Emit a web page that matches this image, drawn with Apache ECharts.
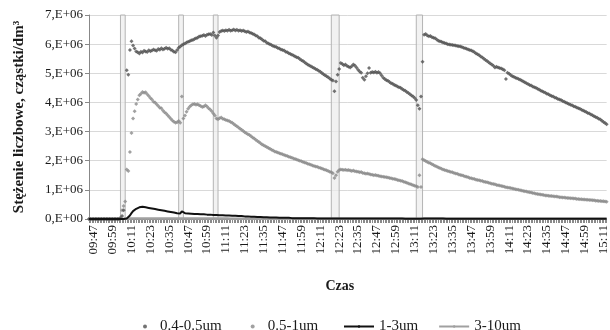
<!DOCTYPE html>
<html><head><meta charset="utf-8">
<script src="https://cdn.jsdelivr.net/npm/echarts@6/dist/echarts.min.js"></script>
<style>html,body{margin:0;padding:0;background:#fff}#c{width:610px;height:330px}</style>
</head><body><div id="c"></div><script>
// per-minute categories from 09:44 to 15:13
const FIRST_MINUTE = 9 * 60 + 44;
const N_MINUTES = 330;
const categories = [];
for (let i = 0; i < N_MINUTES; i++) {
  const t = FIRST_MINUTE + i;
  const h = Math.floor(t / 60), m = t % 60;
  categories.push((h < 10 ? '0' : '') + h + ':' + (m < 10 ? '0' : '') + m);
}
const tickLabels = ['09:47','09:59','10:11','10:23','10:35','10:47','10:59','11:11','11:23','11:35','11:47','11:59','12:11','12:23','12:35','12:47','12:59','13:11','13:23','13:35','13:47','13:59','14:11','14:23','14:35','14:47','14:59','15:11'];
const gaps = [['10:04','10:07'],['10:41','10:44'],['11:03','11:06'],['12:18','12:23'],['13:12','13:16']];
const seriesNames = ['0.4-0.5um','0.5-1um','1-3um','3-10um'];
const yTicks = [0,1,2,3,4,5,6,7]; // x 1E+06

// values in millions (E+06) per minute
const s04_05 = [
0,0,0,0,0,0,0,0,0,0,
0,0,0,0,0,0,0,0,0,0,
0.02,0.1,0.3,null,5.1,4.95,5.8,6.1,5.95,5.85,
5.75,5.72,5.68,5.74,5.71,5.77,5.75,5.73,5.79,5.76,
5.78,5.82,5.79,5.77,5.83,5.81,5.86,5.82,5.84,5.88,
5.84,5.86,5.81,5.78,5.74,5.72,5.8,5.88,5.92,5.96,
6.0,6.02,6.06,6.08,6.1,6.13,6.14,6.18,6.2,6.22,
6.26,6.27,6.29,6.31,6.28,6.32,6.34,6.35,6.31,6.4,
6.3,6.22,6.3,6.42,6.45,6.47,6.45,6.48,6.46,6.49,
6.46,6.48,6.5,6.47,6.49,6.46,6.48,6.45,6.47,6.44,
6.42,6.43,6.4,6.38,6.36,6.33,6.3,6.27,6.22,6.2,
6.16,6.12,6.1,6.05,6.02,6.0,5.97,5.94,5.92,5.9,
5.87,5.85,5.82,5.8,5.78,5.74,5.72,5.69,5.66,5.64,
5.61,5.58,5.55,5.53,5.49,5.45,5.42,5.38,5.34,5.3,
5.27,5.24,5.21,5.18,5.15,5.12,5.09,5.05,5.01,4.97,
4.93,4.9,4.86,4.82,4.78,4.75,4.38,4.72,4.95,5.15,
5.35,5.32,5.28,5.3,5.25,5.22,5.2,5.24,5.3,5.27,
5.2,5.12,5.06,5.02,4.85,4.78,4.9,5.0,5.18,5.02,
5.04,5.03,5.05,5.02,5.04,5.0,4.92,4.85,4.8,4.76,
4.74,4.7,4.66,4.64,4.6,4.58,4.55,4.52,4.5,4.46,
4.43,4.4,4.36,4.32,4.28,4.24,4.2,4.15,4.08,3.9,
3.78,4.2,5.4,6.32,6.35,6.3,6.27,6.28,6.24,6.22,
6.2,6.16,6.12,6.1,6.08,6.06,6.04,6.02,6.0,5.99,
5.98,5.97,5.96,5.95,5.94,5.93,5.92,5.9,5.88,5.86,
5.84,5.82,5.8,5.78,5.76,5.72,5.68,5.65,5.62,5.58,
5.54,5.5,5.46,5.42,5.38,5.34,5.3,5.26,5.2,5.22,
5.2,5.18,5.16,5.14,5.1,4.8,5.02,4.98,4.94,4.9,
4.88,4.85,4.83,4.8,4.78,4.75,4.72,4.69,4.66,4.63,
4.6,4.58,4.55,4.52,4.5,4.47,4.44,4.41,4.38,4.36,
4.33,4.3,4.28,4.25,4.22,4.2,4.17,4.15,4.12,4.1,
4.08,4.05,4.02,4.0,3.97,3.95,3.92,3.9,3.87,3.85,
3.83,3.8,3.78,3.75,3.72,3.7,3.67,3.64,3.62,3.59,
3.56,3.53,3.5,3.47,3.44,3.41,3.37,3.33,3.29,3.25
];
const s05_1 = [
0,0,0,0,0,0,0,0,0,0,
0,0,0,0,0,0,0,0,0,0,
0.05,0.3,0.45,0.6,1.7,1.65,2.3,2.95,3.45,3.7,
3.95,4.1,4.25,4.3,4.36,4.33,4.35,4.28,4.22,4.15,
4.1,4.02,4.0,3.94,3.88,3.82,3.8,3.72,3.66,3.62,
3.56,3.5,3.44,3.38,3.34,3.3,3.32,3.36,3.3,4.2,
3.45,3.55,3.68,3.78,3.85,3.9,3.94,3.95,3.92,3.94,
3.9,3.88,3.84,3.86,3.9,3.86,3.8,3.76,3.7,3.62,
3.55,3.45,3.42,3.46,3.48,3.44,3.42,3.4,3.38,3.36,
3.33,3.3,3.26,3.22,3.18,3.14,3.1,3.06,3.02,2.98,
2.94,2.91,2.88,2.84,2.8,2.76,2.72,2.68,2.64,2.6,
2.56,2.53,2.5,2.47,2.44,2.41,2.38,2.35,2.32,2.3,
2.28,2.26,2.24,2.22,2.2,2.18,2.16,2.14,2.12,2.1,
2.08,2.06,2.04,2.02,2.0,1.98,1.96,1.94,1.92,1.9,
1.88,1.86,1.84,1.82,1.8,1.79,1.77,1.75,1.73,1.71,
1.69,1.67,1.65,1.62,1.6,1.57,1.41,1.5,1.62,1.68,
1.7,1.69,1.68,1.69,1.67,1.68,1.66,1.65,1.66,1.64,
1.63,1.62,1.6,1.61,1.58,1.57,1.55,1.56,1.54,1.53,
1.52,1.5,1.51,1.49,1.48,1.47,1.46,1.45,1.44,1.43,
1.42,1.41,1.4,1.38,1.37,1.36,1.34,1.33,1.31,1.3,
1.28,1.26,1.24,1.22,1.2,1.18,1.16,1.14,1.12,1.1,
1.5,1.1,2.05,2.02,1.99,1.96,1.93,1.91,1.88,1.85,
1.82,1.8,1.77,1.75,1.72,1.7,1.68,1.66,1.65,1.63,
1.61,1.6,1.58,1.56,1.55,1.53,1.51,1.5,1.48,1.46,
1.45,1.43,1.41,1.4,1.38,1.37,1.35,1.34,1.33,1.31,
1.3,1.28,1.27,1.26,1.24,1.23,1.21,1.2,1.19,1.17,
1.16,1.15,1.13,1.12,1.11,1.09,1.08,1.07,1.06,1.05,
1.04,1.02,1.01,1.0,0.99,0.98,0.96,0.95,0.94,0.93,
0.92,0.91,0.89,0.88,0.87,0.86,0.85,0.84,0.83,0.82,
0.81,0.81,0.8,0.79,0.79,0.78,0.77,0.77,0.76,0.75,
0.75,0.74,0.74,0.73,0.72,0.72,0.71,0.71,0.7,0.7,
0.69,0.69,0.68,0.68,0.67,0.67,0.66,0.66,0.65,0.65,
0.64,0.64,0.63,0.63,0.62,0.62,0.61,0.61,0.6,0.59
];
const s1_3 = [
0,0,0,0,0,0,0,0,0,0,
0,0,0,0,0,0,0,0,0,0,
0,0,0,0,0.02,0.06,0.12,0.2,0.27,0.32,
0.35,0.38,0.4,0.41,0.42,0.41,0.4,0.39,0.38,0.37,
0.36,0.35,0.34,0.33,0.32,0.31,0.3,0.29,0.28,0.27,
0.26,0.25,0.24,0.23,0.22,0.21,0.2,0.2,0.19,0.26,
0.2,0.2,0.19,0.19,0.18,0.18,0.18,0.17,0.17,0.17,
0.17,0.16,0.16,0.16,0.16,0.15,0.15,0.15,0.15,0.14,
0.14,0.14,0.14,0.13,0.13,0.13,0.12,0.12,0.12,0.12,
0.11,0.11,0.11,0.11,0.1,0.1,0.1,0.1,0.09,0.09,
0.09,0.09,0.08,0.08,0.08,0.08,0.07,0.07,0.07,0.07,
0.06,0.06,0.06,0.06,0.06,0.05,0.05,0.05,0.05,0.05,
0.05,0.04,0.04,0.04,0.04,0.04,0.04,0.04,0.03,0.03,
0.03,0.03,0.03,0.03,0.03,0.03,0.03,0.03,0.03,0.03,
0.03,0.03,0.03,0.03,0.02,0.02,0.02,0.02,0.02,0.02,
0.02,0.02,0.02,0.02,0.02,0.02,0.02,0.02,0.02,0.02,
0.02,0.02,0.02,0.02,0.02,0.02,0.02,0.02,0.02,0.02,
0.02,0.02,0.02,0.02,0.02,0.02,0.02,0.02,0.02,0.02,
0.02,0.02,0.02,0.02,0.02,0.02,0.02,0.02,0.02,0.02,
0.02,0.02,0.02,0.02,0.02,0.02,0.02,0.02,0.02,0.02,
0.01,0.01,0.01,0.01,0.01,0.01,0.01,0.01,0.01,0.01,
0.01,0.01,0.02,0.02,0.02,0.02,0.02,0.02,0.02,0.02,
0.02,0.02,0.02,0.02,0.02,0.02,0.02,0.01,0.01,0.01,
0.01,0.01,0.01,0.01,0.01,0.01,0.01,0.01,0.01,0.01,
0.01,0.01,0.01,0.01,0.01,0.01,0.01,0.01,0.01,0.01,
0.01,0.01,0.01,0.01,0.01,0.01,0.01,0.01,0.01,0.01,
0.01,0.01,0.01,0.01,0.01,0.01,0.01,0.01,0.01,0.01,
0.01,0.01,0.01,0.01,0.01,0.01,0.01,0.01,0.01,0.01,
0.01,0.01,0.01,0.01,0.01,0.01,0.01,0.01,0.01,0.01,
0.01,0.01,0.01,0.01,0.01,0.01,0.01,0.01,0.01,0.01,
0.01,0.01,0.01,0.01,0.01,0.01,0.01,0.01,0.01,0.01,
0.01,0.01,0.01,0.01,0.01,0.01,0.01,0.01,0.01,0.01,
0.01,0.01,0.01,0.01,0.01,0.01,0.01,0.01,0.01,0.01
];
const s3_10 = [
0,0,0,0,0,0,0,0,0,0,
0,0,0,0,0,0,0,0,0,0,
0,0,0,0,0.01,0.01,0.02,0.02,0.02,0.02,
0.02,0.02,0.02,0.02,0.02,0.02,0.02,0.02,0.02,0.02,
0.02,0.02,0.02,0.02,0.02,0.02,0.02,0.02,0.02,0.02,
0.02,0.02,0.02,0.02,0.02,0.02,0.02,0.02,0.02,0.02,
0.02,0.02,0.02,0.02,0.02,0.02,0.02,0.02,0.02,0.02,
0.02,0.02,0.02,0.02,0.02,0.02,0.02,0.02,0.02,0.02,
0.02,0.02,0.02,0.02,0.02,0.02,0.02,0.02,0.02,0.02,
0.01,0.01,0.01,0.01,0.01,0.01,0.01,0.01,0.01,0.01,
0.01,0.01,0.01,0.01,0.01,0.01,0.01,0.01,0.01,0.01,
0.01,0.01,0.01,0.01,0.01,0.01,0.01,0.01,0.01,0.01,
0.01,0.01,0.01,0.01,0.01,0.01,0.01,0.01,0.01,0.01,
0.01,0.01,0.01,0.01,0.01,0.01,0.01,0.01,0.01,0.01,
0.01,0.01,0.01,0.01,0.01,0.01,0.01,0.01,0.01,0.01,
0.01,0.01,0.01,0.01,0.01,0.01,0.01,0.01,0.01,0.01,
0.01,0.01,0.01,0.01,0.01,0.01,0.01,0.01,0.01,0.01,
0.01,0.01,0.01,0.01,0.01,0.01,0.01,0.01,0.01,0.01,
0.01,0.01,0.01,0.01,0.01,0.01,0.01,0.01,0.01,0.01,
0.01,0.01,0.01,0.01,0.01,0.01,0.01,0.01,0.01,0.01,
0.01,0.01,0.01,0.01,0.01,0.01,0.01,0.01,0.01,0.01,
0.01,0.01,0.01,0.01,0.01,0.01,0.01,0.01,0.01,0.01,
0.01,0.01,0.01,0.01,0.01,0.01,0.01,0.01,0.01,0.01,
0.01,0.01,0.01,0.01,0.01,0.01,0.01,0.01,0.01,0.01,
0.01,0.01,0.01,0.01,0.01,0.01,0.01,0.01,0.01,0.01,
0.01,0.01,0.01,0.01,0.01,0.01,0.01,0.01,0.01,0.01,
0.01,0.01,0.01,0.01,0.01,0.01,0.01,0.01,0.01,0.01,
0.01,0.01,0.01,0.01,0.01,0.01,0.01,0.01,0.01,0.01,
0.01,0.01,0.01,0.01,0.01,0.01,0.01,0.01,0.01,0.01,
0.01,0.01,0.01,0.01,0.01,0.01,0.01,0.01,0.01,0.01,
0.01,0.01,0.01,0.01,0.01,0.01,0.01,0.01,0.01,0.01,
0.01,0.01,0.01,0.01,0.01,0.01,0.01,0.01,0.01,0.01,
0.01,0.01,0.01,0.01,0.01,0.01,0.01,0.01,0.01,0.01
];

const FONT = '"Liberation Serif", "Times New Roman", serif';
const chart = echarts.init(document.getElementById('c'), null, {renderer: 'canvas'});
chart.setOption({
  animation: false,
  backgroundColor: '#ffffff',
  textStyle: {fontFamily: FONT, color: '#1a1a1a'},
  grid: {left: 89, right: 3, top: 15, bottom: 111, containLabel: false},
  xAxis: {
    type: 'category', data: categories, boundaryGap: false,
    name: 'Czas', nameLocation: 'middle', nameGap: 60,
    nameTextStyle: {fontFamily: FONT, fontWeight: 'bold', fontSize: 14, color: '#1a1a1a', padding: [0, 16, 0, 0]},
    axisLine: {lineStyle: {color: '#7a7a7a', width: 1}},
    axisTick: {show: true, interval: 0, length: 4, lineStyle: {color: '#8a8a8a'}},
    axisLabel: {
      interval: (idx, val) => tickLabels.indexOf(val) >= 0,
      rotate: 90, margin: 6, fontFamily: FONT, fontSize: 13, color: '#1a1a1a'
    },
    splitLine: {show: false}
  },
  yAxis: {
    type: 'value', min: yTicks[0], max: yTicks[yTicks.length - 1], interval: 1,
    name: 'Stężenie liczbowe, cząstki/dm³', nameLocation: 'middle', nameGap: 62, nameRotate: 90,
    nameTextStyle: {fontFamily: FONT, fontWeight: 'bold', fontSize: 15, color: '#1a1a1a'},
    axisLine: {show: true, lineStyle: {color: '#888'}},
    axisTick: {show: true, length: 4, lineStyle: {color: '#888'}},
    axisLabel: {
      formatter: v => v === 0 ? '0,E+00' : v + ',E+06',
      fontFamily: FONT, fontSize: 13, color: '#1a1a1a', margin: 6
    },
    splitLine: {lineStyle: {color: '#d9d9d9'}}
  },
  legend: [
    {data: [seriesNames[0], seriesNames[1]], left: 138, top: 314, icon: 'circle',
     itemWidth: 4, itemHeight: 4, itemGap: 29,
     textStyle: {fontFamily: FONT, fontSize: 15, color: '#1a1a1a', padding: [0, 0, 0, 8]}},
    {data: [seriesNames[2], seriesNames[3]], left: 338, top: 314,
     itemWidth: 30, itemHeight: 3, itemGap: 20,
     textStyle: {fontFamily: FONT, fontSize: 15, color: '#1a1a1a'}}
  ],
  series: [
    {name: seriesNames[1], type: 'scatter', data: s05_1, symbol: 'diamond', symbolSize: 4,
     itemStyle: {color: '#8a8a8a'}, z: 3,
     markArea: {silent: true, itemStyle: {color: 'rgba(236,236,236,0.7)', borderColor: '#b4b4b4', borderWidth: 1},
       data: gaps.map(g => [{xAxis: g[0]}, {xAxis: g[1]}])}},
    {name: seriesNames[0], type: 'scatter', data: s04_05, symbol: 'diamond', symbolSize: 4,
     itemStyle: {color: '#505050'}, z: 4},
    {name: seriesNames[2], type: 'line', data: s1_3, symbol: 'none', showSymbol: false,
     lineStyle: {color: '#111', width: 2}, itemStyle: {color: '#111'}, z: 5},
    {name: seriesNames[3], type: 'line', data: s3_10, symbol: 'none', showSymbol: false,
     lineStyle: {color: '#a0a0a0', width: 2.5}, itemStyle: {color: '#a0a0a0'}, z: 2}
  ]
});
</script></body></html>
